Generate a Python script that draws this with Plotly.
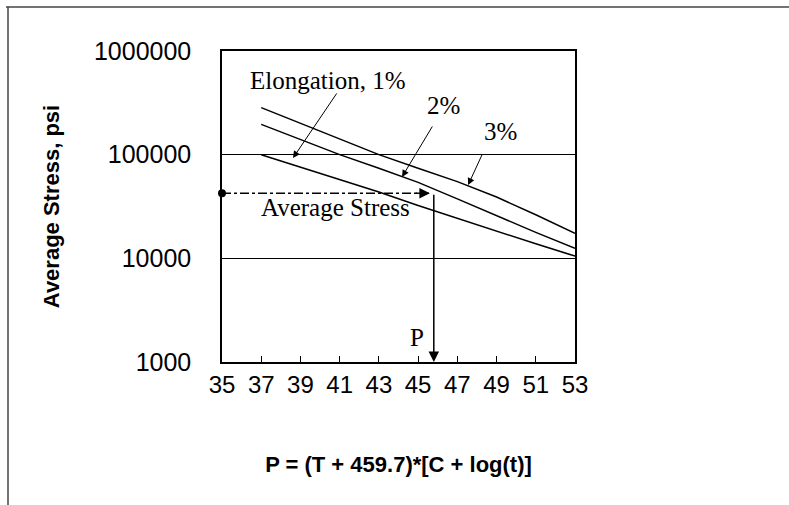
import plotly.graph_objects as go
import math

# ---- data ----
p_values = [37, 39, 41, 43, 45, 47, 49, 51, 53]
stress_1pct = [100000, 76000, 57500, 43600, 32300, 24300, 18200, 13800, 10500]
stress_2pct = [196000, 141000, 100000, 74000, 54000, 37500, 25700, 17800, 12500]
stress_3pct = [284000, 200000, 141000, 100000, 74000, 55000, 39000, 26300, 17400]

avg_stress = 42500
p_result = 45.8
x_min, x_max = 35, 53
y_tickvals = [1000, 10000, 100000, 1000000]
y_ticktext = ["1000", "10000", "100000", "1000000"]
x_tickvals = [35, 37, 39, 41, 43, 45, 47, 49, 51, 53]

W, H = 789, 505
L, R, T, B = 222, 214, 51, 143

serif = "Liberation Serif, Times New Roman, serif"
sans = "Liberation Sans, Arial, sans-serif"

fig = go.Figure()
for ys, name in [(stress_1pct, "1%"), (stress_2pct, "2%"), (stress_3pct, "3%")]:
    fig.add_trace(go.Scatter(x=p_values, y=ys, mode="lines", name=name,
                             line=dict(color="black", width=1.5), showlegend=False))

# average stress dash-dot line with dot at the axis
fig.add_trace(go.Scatter(x=[x_min, p_result - 0.25], y=[avg_stress, avg_stress], mode="lines",
                         line=dict(color="black", width=1.5, dash="dashdot"), showlegend=False))
fig.add_trace(go.Scatter(x=[x_min], y=[avg_stress], mode="markers",
                         marker=dict(color="black", size=8), showlegend=False, cliponaxis=False))

ly = math.log10
annots = []
# arrowhead on the horizontal line
annots.append(dict(x=p_result - 0.2, y=ly(avg_stress), ax=p_result - 1.0, ay=ly(avg_stress),
                   xref="x", yref="y", axref="x", ayref="y", text="", showarrow=True,
                   arrowhead=2, arrowsize=1.4, arrowwidth=1.5, arrowcolor="black"))
# vertical arrow down to P
annots.append(dict(x=p_result, y=3.0, ax=p_result, ay=ly(avg_stress),
                   xref="x", yref="y", axref="x", ayref="y", text="", showarrow=True,
                   arrowhead=2, arrowsize=1.4, arrowwidth=1.5, arrowcolor="black"))
# labels with arrows
annots.append(dict(x=38.62, y=4.968, ax=40.9, ay=5.605, xref="x", yref="y", axref="x", ayref="y",
                   text="", showarrow=True, arrowhead=2, arrowsize=1.4, arrowwidth=1, arrowcolor="black"))
annots.append(dict(x=44.18, y=4.785, ax=45.77, ay=5.286, xref="x", yref="y", axref="x", ayref="y",
                   text="", showarrow=True, arrowhead=2, arrowsize=1.4, arrowwidth=1, arrowcolor="black"))
annots.append(dict(x=47.55, y=4.707, ax=48.3, ay=5.016, xref="x", yref="y", axref="x", ayref="y",
                   text="", showarrow=True, arrowhead=2, arrowsize=1.4, arrowwidth=1, arrowcolor="black"))
texts = [("Elongation, 1%", 40.4, 5.72), ("2%", 46.3, 5.47), ("3%", 49.2, 5.22),
         ("Average Stress", 40.8, 4.49), ("P", 44.95, 3.24)]
for t, x, y in texts:
    annots.append(dict(x=x, y=y, xref="x", yref="y", text=t, showarrow=False,
                       font=dict(family=serif, size=25, color="black")))

fig.update_layout(
    width=W, height=H, margin=dict(l=L, r=R, t=T, b=B),
    paper_bgcolor="white", plot_bgcolor="white",
    annotations=annots,
    xaxis=dict(range=[x_min, x_max], tickvals=x_tickvals, ticks="inside", ticklen=6,
               tickcolor="black", showgrid=False, zeroline=False,
               showline=True, linecolor="black", linewidth=1.5, mirror=True,
               tickfont=dict(family=sans, size=24, color="black"), ticklabelstandoff=0,
               title=dict(text="<b>P = (T + 459.7)*[C + log(t)]</b>",
                          font=dict(family=sans, size=22, color="black"), standoff=60)),
    yaxis=dict(type="log", range=[3, 6], tickvals=y_tickvals, ticktext=y_ticktext,
               showgrid=True, gridcolor="black", gridwidth=1, zeroline=False,
               showline=True, linecolor="black", linewidth=1.5, mirror=True,
               tickfont=dict(family=sans, size=25, color="black"), ticklabelstandoff=24,
               title=dict(text="<b>Average Stress, psi</b>",
                          font=dict(family=sans, size=22, color="black"), standoff=28)),
    shapes=[
        dict(type="line", xref="paper", yref="paper", x0=(6 - L) / 353, x1=(W - L) / 353,
             y0=(362 - 7) / 311, y1=(362 - 7) / 311, line=dict(color="#444", width=1.5)),
        dict(type="line", xref="paper", yref="paper", x0=(8 - L) / 353, x1=(8 - L) / 353,
             y0=(362 - 7) / 311, y1=(362 - H) / 311, line=dict(color="#444", width=1.5)),
    ],
)

fig.write_html("out.html")
